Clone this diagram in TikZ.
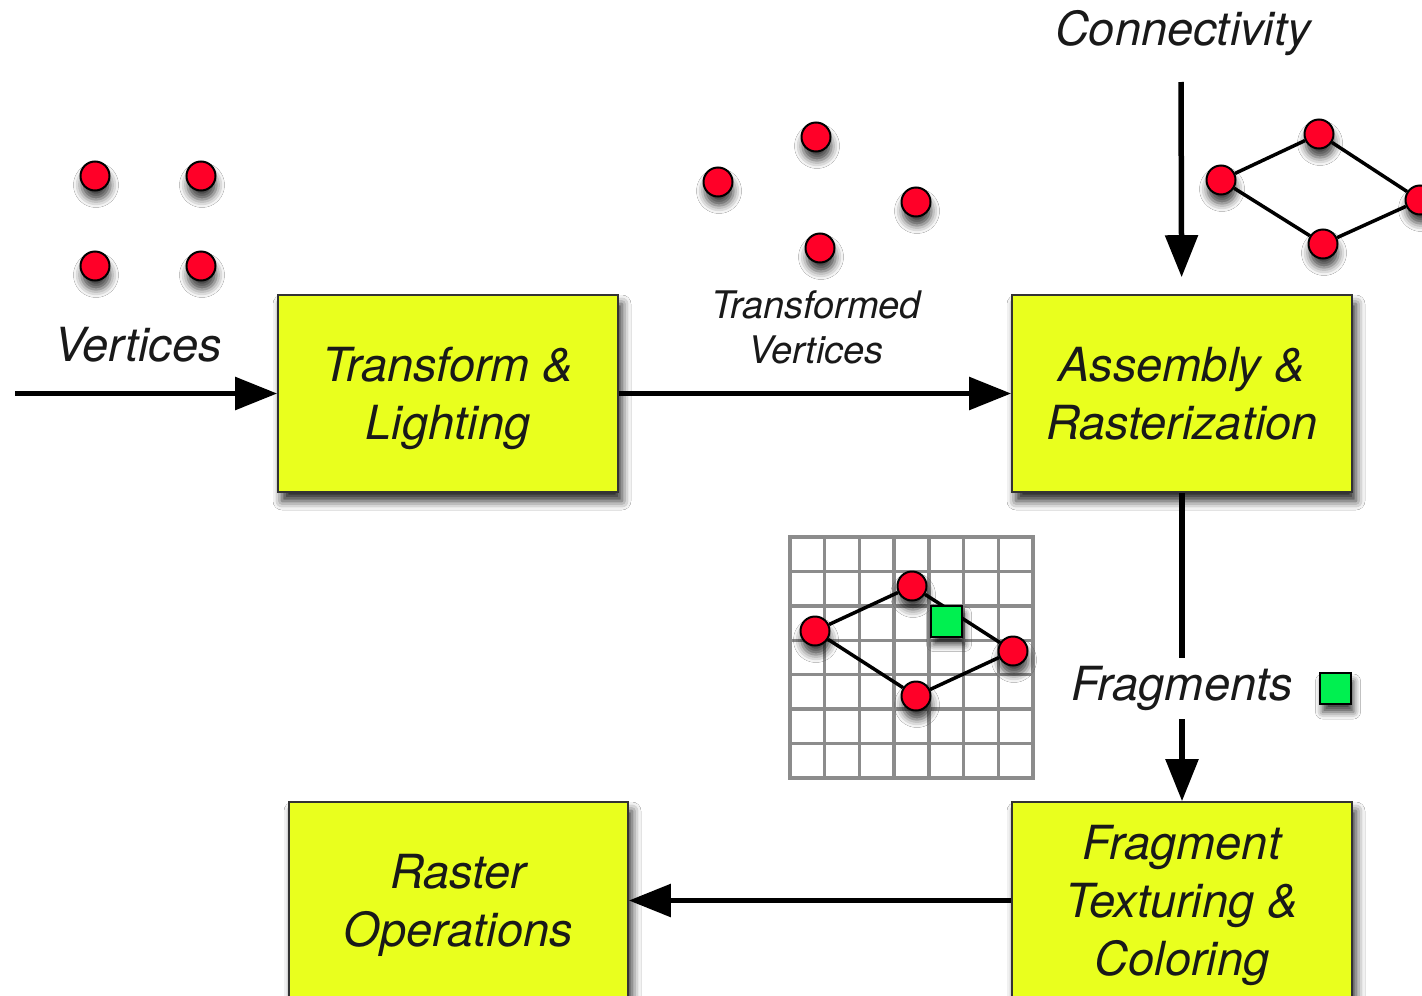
\documentclass[tikz,border=0pt]{standalone}
\usepackage{fontspec}
\setmainfont{TeX Gyre Heros}
\usetikzlibrary{arrows.meta,shadows.blur}
\definecolor{stagefill}{RGB}{233,255,30}
\definecolor{vertred}{RGB}{255,0,40}
\definecolor{fraggreen}{RGB}{0,240,80}
\definecolor{gridgray}{RGB}{140,140,140}
\begin{document}
\begin{tikzpicture}[x=1pt,y=-1pt,
  stagebox/.style={draw=black!80, line width=1.6pt, fill=stagefill,
    minimum width=340pt, minimum height=197pt, align=center, text=black!90,
    text depth=0pt,
    font=\fontsize{47}{58}\selectfont\itshape,
    blur shadow={shadow xshift=4pt, shadow yshift=-9pt, shadow blur radius=9pt, shadow opacity=85}},
  vdot/.style={circle, draw=black, line width=2pt, fill=vertred,
    minimum size=29pt, inner sep=0pt,
    blur shadow={shadow xshift=1pt, shadow yshift=-9pt, shadow blur radius=8pt, shadow opacity=75}},
  fragsq/.style={rectangle, draw=black, line width=2pt, fill=fraggreen,
    minimum size=31pt, inner sep=0pt,
    blur shadow={shadow xshift=3pt, shadow yshift=-8pt, shadow blur radius=7pt, shadow opacity=75}},
  flowarrow/.style={line width=5.5pt, -{Triangle[length=42pt,width=32pt]}},
  wire/.style={line width=3.5pt},
  captext/.style={font=\fontsize{47}{58}\selectfont\itshape, text=black!90, align=center, inner sep=0pt},
  smallcap/.style={font=\fontsize{38}{45}\selectfont\itshape, text=black!90, align=center, inner sep=0pt}]

\fill[white] (0,0) rectangle (1422,996);
\useasboundingbox (0,0) rectangle (1422,996);
\clip (0,0) rectangle (1422,996);

% pipeline stages
\node[stagebox] (tl)  at (448,393.5)    {Transform \&\\Lighting};
\node[stagebox] (ar)  at (1182,393.5)   {Assembly \&\\Rasterization};
\node[stagebox, minimum width=339pt] (ro) at (458.5,900.5) {Raster\\Operations};
\node[stagebox] (ftc) at (1182,900.5)   {Fragment\\Texturing \&\\Coloring};

% input vertices
\node[vdot] (v1) at (95,176) {};
\node[vdot] (v2) at (201,176) {};
\node[vdot] (v3) at (95,266) {};
\node[vdot] (v4) at (201,266) {};
\node[captext] (vlab) at (138,345) {Vertices};

% transformed vertices
\node[vdot] (t1) at (816,137) {};
\node[vdot] (t2) at (718,182) {};
\node[vdot] (t3) at (916,202) {};
\node[vdot] (t4) at (820,248) {};
\node[smallcap] (tlab) at (816,327) {Transformed\\Vertices};

% connectivity: assembled quad
\node[captext] (clab) at (1183,33) {Connectivity};
\node[vdot] (c1) at (1221,180) {};
\node[vdot] (c2) at (1319,134) {};
\node[vdot] (c3) at (1420,200) {};
\node[vdot] (c4) at (1323,244) {};
\draw[wire] (c1) -- (c2);
\draw[wire] (c2) -- (c3);
\draw[wire] (c3) -- (c4);
\draw[wire] (c4) -- (c1);

% rasterization grid
\foreach \i in {0,...,7} {
  \draw[gridgray, line width=3.5pt, line cap=rect] ({790+\i*243/7},537) -- ({790+\i*243/7},778);
  \draw[gridgray, line width=3.5pt, line cap=rect] (790,{537+\i*241/7}) -- (1033,{537+\i*241/7});
}
\node[vdot] (g1) at (815,631) {};
\node[vdot] (g2) at (912,586) {};
\node[vdot] (g3) at (1013,651) {};
\node[vdot] (g4) at (916,696) {};
\draw[wire] (g1) -- (g2);
\draw[wire] (g2) -- (g3);
\draw[wire] (g3) -- (g4);
\draw[wire] (g4) -- (g1);
\node[fragsq] (gsq) at (946,621) {};

% data flow
\coordinate (vin) at (15,393.5);
\coordinate (cin) at (1181,82);
\draw[flowarrow] (vin) -- (tl);
\draw[flowarrow] (tl) -- (ar);
\draw[flowarrow, shorten >=17pt] (cin) -- (ar);
\draw[flowarrow] (ar) -- node[pos=0.635, fill=white, captext, inner xsep=4pt, inner ysep=8pt] (flab) {Fragments} (ftc);
\node[fragsq] (fsq) at (1335,688.5) {};
\draw[flowarrow] (ftc) -- (ro);

\end{tikzpicture}
\end{document}
